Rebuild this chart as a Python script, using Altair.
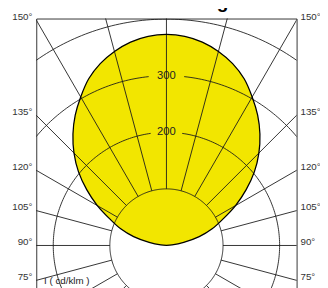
import math
import altair as alt
import pandas as pd

TITLE = "Lichtstärkeverteilung"
UNIT_LABEL = "I ( cd/klm )"
# deviation from straight up (deg) and intensity (cd/klm), symmetric curve
PHI = [0, 5, 10, 15, 20, 25, 30, 35, 40, 45, 50, 55, 60, 65, 70, 75, 80, 85, 90]
INTENSITY = [373, 371, 365, 355, 342, 325, 303, 281, 257, 231, 203, 172, 141, 110, 86, 60, 31, 10, 0]
CIRCLES = [100, 200, 300, 400, 500]
CIRCLE_LABELS = [200, 300]
RADIAL_ANGLES = list(range(0, 360, 15))
ANGLE_LABELS = [150, 135, 120, 105, 90, 75]

W, H = 267, 290
XMIN, XMAX = -230, 230
PXU = W / (XMAX - XMIN)
YMAX = 401
YMIN = YMAX - H / PXU
FONT = "Liberation Sans"

xs = alt.Scale(domain=[XMIN, XMAX], nice=False, zero=False)
ys = alt.Scale(domain=[YMIN, YMAX], nice=False, zero=False)

# yellow fill (horizontal area)
fill_rows = []
for p, r in zip(PHI, INTENSITY):
    a = math.radians(p)
    fill_rows.append({"y": r * math.cos(a), "xl": -r * math.sin(a), "xr": r * math.sin(a)})
fill_df = pd.DataFrame(fill_rows).sort_values("y")

# outline
out_rows = []
i = 0
for p, r in list(zip(PHI, INTENSITY))[::-1]:
    a = math.radians(p)
    out_rows.append({"x": -r * math.sin(a), "y": r * math.cos(a), "o": i}); i += 1
for p, r in list(zip(PHI, INTENSITY))[1:]:
    a = math.radians(p)
    out_rows.append({"x": r * math.sin(a), "y": r * math.cos(a), "o": i}); i += 1
out_df = pd.DataFrame(out_rows)

# circles
circ_rows = []
for c in CIRCLES:
    gap = 0.0
    if c in CIRCLE_LABELS:
        gap = math.degrees(math.asin(16 / (c * PXU)))
    seg = 0
    prev_in = False
    for d in range(0, 361):
        dd = (d - 180)
        if abs(dd) < gap:
            if prev_in:
                seg += 1
            prev_in = False
            continue
        a = math.radians(d)
        circ_rows.append({"x": c * math.sin(a), "y": -c * math.cos(a), "g": f"{c}_{seg}", "o": d})
        prev_in = True
circ_df = pd.DataFrame(circ_rows)

# radial lines
rad_rows = []
for t in RADIAL_ANGLES:
    a = math.radians(t)
    for k, r in enumerate([CIRCLES[0], 1000]):
        rad_rows.append({"x": r * math.sin(a), "y": -r * math.cos(a), "g": str(t), "o": k})
rad_df = pd.DataFrame(rad_rows)

# angle labels at frame edges
lab_rows = []
for t in ANGLE_LABELS:
    a = math.radians(t)
    yy = -XMAX * math.cos(a) / math.sin(a)
    lab_rows.append({"x": XMIN, "y": yy, "t": f"{t}°", "side": "L"})
    lab_rows.append({"x": XMAX, "y": yy, "t": f"{t}°", "side": "R"})
lab_df = pd.DataFrame(lab_rows)

cl_df = pd.DataFrame({"x": [0] * len(CIRCLE_LABELS), "y": CIRCLE_LABELS, "t": [str(v) for v in CIRCLE_LABELS]})

fill = alt.Chart(fill_df).mark_area(orient="horizontal", color="#f2e600", interpolate="catmull-rom", clip=True).encode(
    y=alt.Y("y:Q", scale=ys, axis=None), x=alt.X("xl:Q", scale=xs, axis=None), x2="xr:Q")

circ = alt.Chart(circ_df).mark_line(color="#1a1a1a", strokeWidth=0.9, clip=True).encode(
    x=alt.X("x:Q", scale=xs, axis=None), y=alt.Y("y:Q", scale=ys, axis=None), detail="g:N", order="o:Q")

rad = alt.Chart(rad_df).mark_line(color="#1a1a1a", strokeWidth=0.9, clip=True).encode(
    x=alt.X("x:Q", scale=xs, axis=None), y=alt.Y("y:Q", scale=ys, axis=None), detail="g:N", order="o:Q")

outline = alt.Chart(out_df).mark_line(color="#000000", strokeWidth=1.3, interpolate="catmull-rom", clip=True).encode(
    x=alt.X("x:Q", scale=xs, axis=None), y=alt.Y("y:Q", scale=ys, axis=None), order="o:Q")

clab = alt.Chart(cl_df).mark_text(font=FONT, fontSize=11.5, color="#222", baseline="middle", align="center").encode(
    x=alt.X("x:Q", scale=xs, axis=None), y=alt.Y("y:Q", scale=ys, axis=None), text="t:N")

llab = alt.Chart(lab_df[lab_df.side == "L"]).mark_text(font=FONT, fontSize=10, color="#333", baseline="middle", align="right", dx=-4, dy=-3.5).encode(
    x=alt.X("x:Q", scale=xs, axis=None), y=alt.Y("y:Q", scale=ys, axis=None), text="t:N")
rlab = alt.Chart(lab_df[lab_df.side == "R"]).mark_text(font=FONT, fontSize=10, color="#333", baseline="middle", align="left", dx=4, dy=-3.5).encode(
    x=alt.X("x:Q", scale=xs, axis=None), y=alt.Y("y:Q", scale=ys, axis=None), text="t:N")

unit_df = pd.DataFrame({"x": [XMIN], "y": [YMAX], "t": [UNIT_LABEL]})
unit = alt.Chart(unit_df).mark_text(font=FONT, fontSize=10, color="#222", baseline="middle", align="left", dx=8, dy=269).encode(
    x=alt.X("x:Q", scale=xs, axis=None), y=alt.Y("y:Q", scale=ys, axis=None), text="t:N")

title_df = pd.DataFrame({"x": [XMIN], "y": [YMAX], "t": [TITLE]})
title = alt.Chart(title_df).mark_text(font=FONT, fontSize=19.5, fontWeight="bold", color="#000", baseline="alphabetic", align="left", dx=0, dy=-11).encode(
    x=alt.X("x:Q", scale=xs, axis=None), y=alt.Y("y:Q", scale=ys, axis=None), text="t:N")

chart = alt.layer(fill, circ, rad, outline, clab, llab, rlab, unit, title).properties(
    width=W, height=H, autosize=alt.AutoSizeParams(type="none"),
    padding={"left": 29, "top": 7, "right": 24, "bottom": 0},
).configure_view(stroke="#333", strokeWidth=1)

chart.save("out.html", embed_options={"renderer": "svg", "actions": False})
